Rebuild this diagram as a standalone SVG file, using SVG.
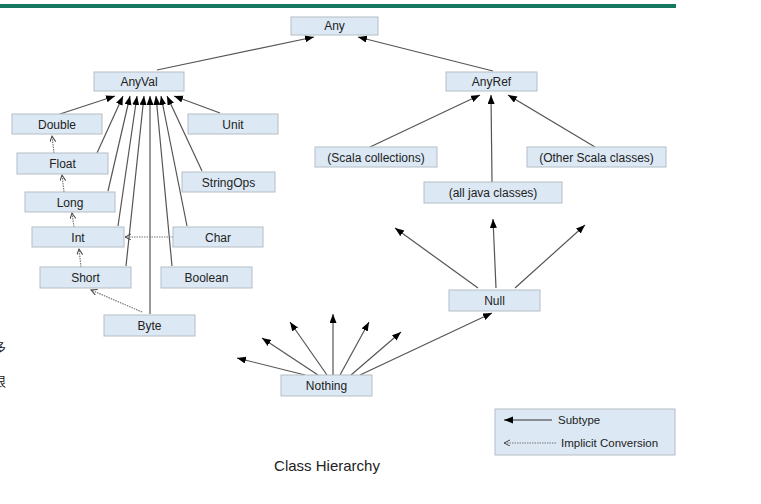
<svg xmlns="http://www.w3.org/2000/svg" width="761" height="504" viewBox="0 0 761 504">
<style>
.box{fill:#dce8f4;stroke:#b4bec8;stroke-width:1}
.t{font-family:"Liberation Sans",Arial,sans-serif;font-size:12px;fill:#222;text-anchor:middle}
.sub{stroke:#555;stroke-width:1.2;fill:none;marker-end:url(#ah)}
.imp{stroke:#777;stroke-width:1.2;fill:none;stroke-dasharray:1.5 1;marker-end:url(#oh)}
</style>
<defs>
<marker id="ah" markerUnits="userSpaceOnUse" markerWidth="10" markerHeight="8" refX="9" refY="3.5" orient="auto">
<path d="M0,0 L9,3.5 L0,7 z" fill="#000"/>
</marker>
<marker id="oh" markerUnits="userSpaceOnUse" markerWidth="8" markerHeight="7" refX="6" refY="3" orient="auto">
<path d="M0,0 L6,3 L0,6" fill="none" stroke="#444" stroke-width="1"/>
</marker>
</defs>
<rect width="761" height="504" fill="#fff"/>
<rect x="0" y="4" width="676" height="4" fill="#17785f"/>
<text x="-7" y="352" font-family="'Noto Sans CJK SC',sans-serif" font-size="13" fill="#222">多</text>
<text x="-7" y="386" font-family="'Noto Sans CJK SC',sans-serif" font-size="13" fill="#222">很</text>

<g id="connectors">
<line class="sub" x1="157" y1="70" x2="314" y2="37"/>
<line class="sub" x1="493" y1="71" x2="358" y2="37"/>
<line class="sub" x1="60" y1="114" x2="115" y2="96"/>
<line class="sub" x1="97" y1="153" x2="123" y2="96"/>
<line class="sub" x1="108" y1="191" x2="130" y2="96"/>
<line class="sub" x1="118" y1="226" x2="137" y2="96"/>
<line class="sub" x1="126" y1="266" x2="144" y2="96"/>
<line class="sub" x1="150" y1="314" x2="150" y2="96"/>
<line class="sub" x1="172" y1="266" x2="156" y2="96"/>
<line class="sub" x1="187" y1="226" x2="161" y2="96"/>
<line class="sub" x1="202" y1="171" x2="167" y2="96"/>
<line class="sub" x1="220" y1="113" x2="174" y2="96"/>
<line class="imp" x1="54" y1="153" x2="52" y2="136"/>
<line class="imp" x1="64" y1="192" x2="62" y2="175"/>
<line class="imp" x1="74" y1="227" x2="72" y2="213"/>
<line class="imp" x1="81" y1="267" x2="79" y2="249"/>
<line class="imp" x1="142" y1="312" x2="91" y2="290"/>
<line class="imp" x1="173" y1="237" x2="125" y2="237"/>
<line class="sub" x1="370" y1="147" x2="480" y2="95"/>
<line class="sub" x1="492" y1="182" x2="491" y2="95"/>
<line class="sub" x1="595" y1="147" x2="508" y2="95"/>
<line class="sub" x1="478" y1="288" x2="395" y2="228"/>
<line class="sub" x1="496" y1="288" x2="493" y2="219"/>
<line class="sub" x1="515" y1="288" x2="585" y2="225"/>
<line class="sub" x1="305" y1="375" x2="237" y2="358"/>
<line class="sub" x1="318" y1="375" x2="262" y2="338"/>
<line class="sub" x1="327" y1="375" x2="290" y2="322"/>
<line class="sub" x1="333" y1="375" x2="333" y2="314"/>
<line class="sub" x1="340" y1="375" x2="369" y2="322"/>
<line class="sub" x1="351" y1="375" x2="401" y2="332"/>
<line class="sub" x1="360" y1="375" x2="492" y2="313"/>
</g>

<g id="n-any"><rect class="box" x="291" y="17" width="87" height="18"/><text class="t" x="334.5" y="30">Any</text></g>
<g id="n-anyval"><rect class="box" x="94" y="72" width="90" height="19"/><text class="t" x="139" y="86">AnyVal</text></g>
<g id="n-anyref"><rect class="box" x="446" y="72" width="91" height="19"/><text class="t" x="491.5" y="86">AnyRef</text></g>
<g id="n-double"><rect class="box" x="12" y="114" width="90" height="20"/><text class="t" x="57" y="128.5">Double</text></g>
<g id="n-unit"><rect class="box" x="188" y="114" width="90" height="20"/><text class="t" x="233" y="128.5">Unit</text></g>
<g id="n-float"><rect class="box" x="17" y="153" width="91" height="21"/><text class="t" x="62.5" y="168">Float</text></g>
<g id="n-stringops"><rect class="box" x="182" y="172" width="93" height="20"/><text class="t" x="228.5" y="186.5">StringOps</text></g>
<g id="n-long"><rect class="box" x="25" y="192" width="90" height="20"/><text class="t" x="70" y="206.5">Long</text></g>
<g id="n-int"><rect class="box" x="32" y="227" width="92" height="20"/><text class="t" x="78" y="241.5">Int</text></g>
<g id="n-char"><rect class="box" x="173" y="227" width="90" height="20"/><text class="t" x="218" y="241.5">Char</text></g>
<g id="n-short"><rect class="box" x="40" y="267" width="91" height="21"/><text class="t" x="85.5" y="282">Short</text></g>
<g id="n-boolean"><rect class="box" x="161" y="267" width="91" height="21"/><text class="t" x="206.5" y="282">Boolean</text></g>
<g id="n-byte"><rect class="box" x="104" y="315" width="91" height="21"/><text class="t" x="149.5" y="330">Byte</text></g>
<g id="n-scalacoll"><rect class="box" x="315" y="147" width="122" height="20"/><text class="t" x="376" y="161.5">(Scala collections)</text></g>
<g id="n-otherscala"><rect class="box" x="527" y="147" width="139" height="20"/><text class="t" x="596.5" y="161.5">(Other Scala classes)</text></g>
<g id="n-java"><rect class="box" x="424" y="182" width="138" height="21"/><text class="t" x="493" y="197">(all java classes)</text></g>
<g id="n-null"><rect class="box" x="449" y="290" width="91" height="21"/><text class="t" x="494.5" y="305">Null</text></g>
<g id="n-nothing"><rect class="box" x="281" y="375" width="91" height="21"/><text class="t" x="326.5" y="390">Nothing</text></g>

<g id="legend">
<rect class="box" x="495" y="409" width="180" height="46"/>
<line x1="552" y1="420" x2="504" y2="420" stroke="#333" stroke-width="1.2" marker-end="url(#ah)"/>
<text x="558" y="424" font-family="'Liberation Sans',Arial,sans-serif" font-size="11.5" fill="#222">Subtype</text>
<line x1="556" y1="443" x2="504" y2="443" stroke="#777" stroke-width="1.2" stroke-dasharray="1.5 1" marker-end="url(#oh)"/>
<text x="561" y="447" font-family="'Liberation Sans',Arial,sans-serif" font-size="11.5" fill="#222">Implicit Conversion</text>
</g>
<text x="327" y="471" font-family="'Liberation Sans',Arial,sans-serif" font-size="15" fill="#222" text-anchor="middle">Class Hierarchy</text>
</svg>
